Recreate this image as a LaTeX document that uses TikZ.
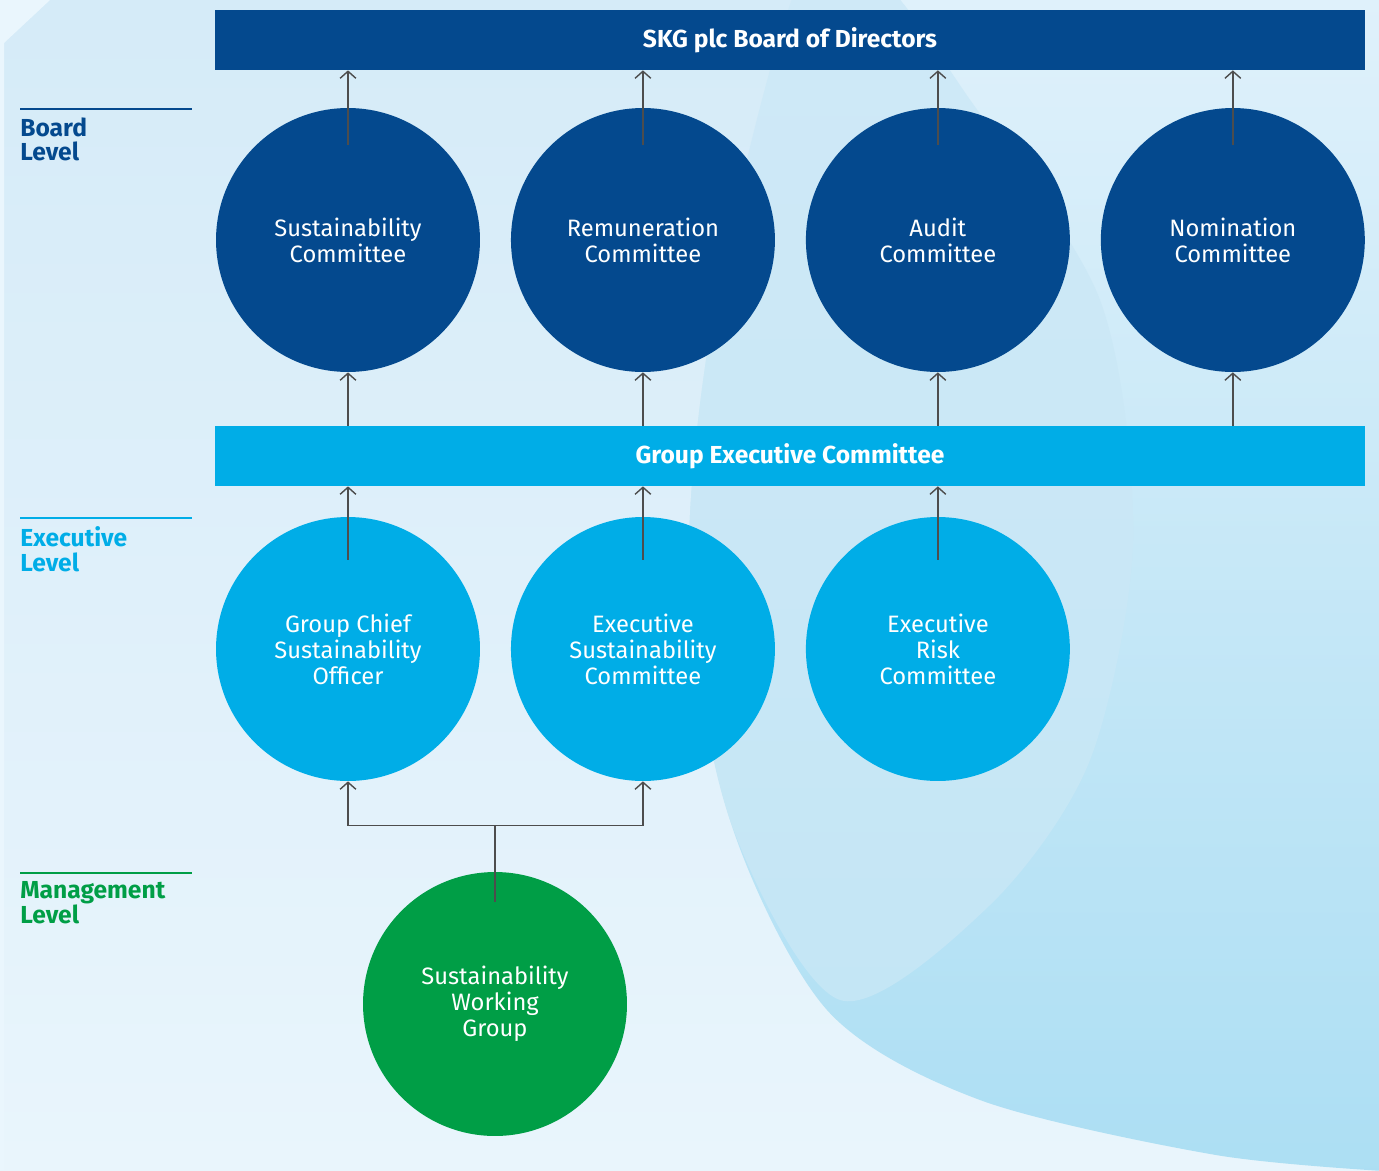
\documentclass[tikz,border=0pt]{standalone}
\usepackage{fontspec}
\setmainfont{Fira Sans}
\usetikzlibrary{positioning,arrows.meta,calc}

\definecolor{boardblue}{HTML}{04498E}
\definecolor{execblue}{HTML}{00ADE7}
\definecolor{mgmtgreen}{HTML}{009E46}
\definecolor{linegray}{HTML}{4D4D4D}
\definecolor{bgtop}{HTML}{D5EBF8}
\definecolor{bgbot}{HTML}{E9F5FC}
\definecolor{rtop}{HTML}{E0F1FB}
\definecolor{rbot}{HTML}{ABDEF3}
\definecolor{bandtop}{HTML}{D0E9F7}
\definecolor{bandbot}{HTML}{C4E6F5}
\definecolor{paleedge}{HTML}{EAF6FD}

\begin{document}
\begin{tikzpicture}[x=0.02cm,y=-0.02cm,node distance=5.9cm,
	board node/.style = {circle, fill=boardblue, text=white, inner sep=0pt, minimum size=5.28cm,
		align=center, font=\fontsize{13.5}{14.8}\selectfont},
	exec node/.style = {board node, fill=execblue},
	mgmt node/.style = {board node, fill=mgmtgreen},
	bar/.style = {rectangle, inner sep=0pt, minimum width=23cm, minimum height=1.2cm,
		text=white, font=\bfseries\fontsize{14}{16}\selectfont},
	level/.style = {anchor=north west, inner sep=0pt, align=left,
		font=\bfseries\fontsize{14}{14.2}\selectfont},
	link/.style = {draw=linegray, line width=0.8pt, -{Straight Barb[length=4pt,width=9pt]}}]

	% background
	\shade[top color=bgtop, bottom color=bgbot] (0,0) rectangle (1379,1170);
	\begin{scope}
		\clip (0,0) rectangle (1379,1170);
		\shade[top color=rtop, bottom color=rbot] plot[smooth] coordinates {(800,-20) (716,300) (689,572) (730,820) (827,1010) (980,1100) (1216,1155) (1400,1172)} -- (1400,1200) -- (1400,-20) -- cycle;
		\shade[top color=bandtop, bottom color=bandbot] plot[smooth cycle] coordinates {(800,-20) (716,300) (689,572) (730,820) (840,1000) (990,905) (1090,760) (1133,540) (1100,300) (966,94) (880,-20)};
	\end{scope}
	\fill[paleedge] (0,0) -- (50,0) -- (4,43) -- (4,1170) -- (0,1170) -- cycle;

	% bars
	\node[bar, fill=boardblue] (board) at (790,40) {SKG plc Board of Directors};
	\node[bar, fill=execblue] (gec) at (790,456) {Group Executive Committee};

	% board level
	\node[board node] (sust) at (348,240) {Sustainability\\Committee};
	\node[board node] [right of = sust] (rem) {Remuneration\\Committee};
	\node[board node] [right of = rem] (audit) {Audit\\Committee};
	\node[board node] [right of = audit] (nom) {Nomination\\Committee};

	% executive level
	\node[exec node] (gcso) at (348,649) {Group Chief\\Sustainability\\Officer};
	\node[exec node] [right of = gcso] (esc) {Executive\\Sustainability\\Committee};
	\node[exec node] [right of = esc] (erc) {Executive\\Risk\\Committee};

	% management level
	\node[mgmt node] (swg) at (495,1004) {Sustainability\\Working\\Group};

	% level labels
	\draw[boardblue, line width=1.1pt] (20,109) -- (192,109);
	\node[level, text=boardblue] (boardlvl) at (20,117) {Board\\Level};
	\draw[execblue, line width=1.1pt] (20,518) -- (192,518);
	\node[level, text=execblue] (execlvl) at (20,526) {Executive\\Level};
	\draw[mgmtgreen, line width=1.1pt] (20,873) -- (192,873);
	\node[level, text=mgmtgreen] (mgmtlvl) at (20,881) {Management\\Level};

	% reporting lines
	\foreach \n in {sust,rem,audit,nom} {
		\draw[link] ($(\n.north)+(0,-0.74cm)$) -- (\n |- board.south);
		\draw[link] (\n |- gec.north) -- (\n.south);
	}
	\foreach \n in {gcso,esc,erc}
		\draw[link] ($(\n.north)+(0,-0.86cm)$) -- (\n |- gec.south);

	\coordinate (fork) at ($(swg.north)+(0,0.92cm)$);
	\draw[draw=linegray, line width=0.8pt] ($(swg.north)+(0,-0.6cm)$) -- (fork);
	\draw[link] (fork) -| (gcso.south);
	\draw[link] (fork) -| (esc.south);

\end{tikzpicture}
\end{document}
